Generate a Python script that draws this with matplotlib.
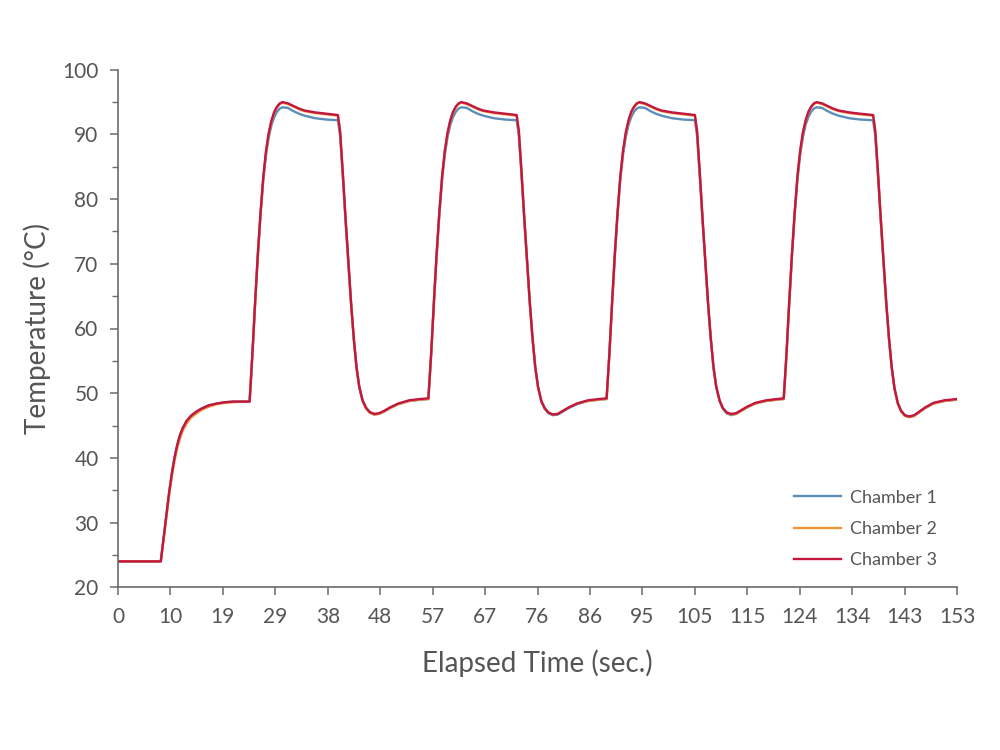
import matplotlib
matplotlib.use("Agg")
import matplotlib.pyplot as plt
import numpy as np

plt.rcParams['font.family'] = ['Lato', 'DejaVu Sans']

# time (sec.)
time = [
    0, 7.8, 8.3, 8.8, 9.3, 9.8, 10.3, 10.8, 11.3, 11.8, 12.5, 13.3, 14.2, 15.2, 16.5, 18, 19.5, 21, 22.5,
    24.0, 24.5, 25.0, 25.5, 26.0, 26.5, 27.0, 27.5, 28.0, 28.5, 29.0, 29.5, 30.0, 31.0, 32.0, 33.0, 34.0, 36.0, 38.0,
    40.1, 40.5, 41.0, 41.5, 42.0, 42.5, 43.0, 43.5, 44.0, 44.6, 45.2, 45.9, 46.7, 47.6, 48.6, 49.6, 51.1, 53.1, 55.1,
    56.6, 57.1, 57.6, 58.1, 58.6, 59.1, 59.6, 60.1, 60.6, 61.1, 61.6, 62.1, 62.6, 63.6, 64.6, 65.6, 66.6, 68.6, 70.6,
    72.7, 73.1, 73.6, 74.1, 74.6, 75.1, 75.6, 76.1, 76.6, 77.2, 77.8, 78.5, 79.3, 80.2, 81.2, 82.2, 83.7, 85.7, 87.7,
    89.1, 89.6, 90.1, 90.6, 91.1, 91.6, 92.1, 92.6, 93.1, 93.6, 94.1, 94.6, 95.1, 96.1, 97.1, 98.1, 99.1, 101.1, 103.1,
    105.2, 105.6, 106.1, 106.6, 107.1, 107.6, 108.1, 108.6, 109.1, 109.7, 110.3, 111.0, 111.8, 112.7, 113.7, 114.7, 116.2, 118.2, 120.2,
    121.4, 121.9, 122.4, 122.9, 123.4, 123.9, 124.4, 124.9, 125.4, 125.9, 126.4, 126.9, 127.4, 128.4, 129.4, 130.4, 131.4, 133.4, 135.4,
    137.7, 138.1, 138.6, 139.1, 139.6, 140.1, 140.6, 141.1, 141.6, 142.2, 142.8, 143.5, 144.3, 145.2, 146.2, 147.2, 148.7, 150.7, 153.0,
]

chamber1 = [
    24.0, 24.0, 27.5, 31.0, 34.5, 37.5, 40.0, 42.0, 43.5, 44.6, 45.7, 46.5, 47.1, 47.6, 48.1, 48.4, 48.6, 48.7, 48.7,
    48.7, 55.8, 63.8, 71.2, 77.6, 83.0, 86.9, 89.6, 91.5, 92.7, 93.5, 94.0, 94.2, 94.1, 93.6, 93.2, 92.9, 92.5, 92.3,
    92.2, 89.8, 83.5, 76.6, 70.2, 63.8, 58.3, 53.9, 50.9, 48.8, 47.7, 47.0, 46.7, 46.8, 47.2, 47.7, 48.3, 48.8, 49.0,
    49.1, 55.9, 63.8, 71.2, 77.6, 83.0, 86.9, 89.6, 91.5, 92.7, 93.5, 94.0, 94.2, 94.1, 93.6, 93.2, 92.9, 92.5, 92.3,
    92.2, 89.8, 83.5, 76.6, 70.2, 63.8, 58.3, 53.9, 50.9, 48.7, 47.6, 46.9, 46.6, 46.7, 47.2, 47.7, 48.3, 48.8, 49.0,
    49.1, 55.9, 63.8, 71.2, 77.6, 83.0, 86.9, 89.6, 91.5, 92.7, 93.5, 94.0, 94.2, 94.1, 93.6, 93.2, 92.9, 92.5, 92.3,
    92.2, 89.8, 83.5, 76.6, 70.2, 63.8, 58.3, 53.9, 50.9, 48.8, 47.6, 46.9, 46.6, 46.8, 47.3, 47.8, 48.4, 48.8, 49.0,
    49.1, 55.9, 63.8, 71.2, 77.6, 83.0, 86.9, 89.6, 91.5, 92.7, 93.5, 94.0, 94.2, 94.1, 93.6, 93.2, 92.9, 92.5, 92.3,
    92.2, 89.8, 83.5, 76.6, 70.2, 63.8, 58.3, 53.9, 50.7, 48.4, 47.2, 46.5, 46.3, 46.5, 47.1, 47.7, 48.4, 48.8, 49.0,
]

chamber2 = [
    24.0, 24.0, 27.2, 30.6, 34.0, 37.0, 39.5, 41.5, 43.0, 44.2, 45.3, 46.2, 46.8, 47.4, 47.9, 48.3, 48.5, 48.6, 48.7,
    48.7, 55.9, 63.9, 71.4, 77.9, 83.4, 87.4, 90.2, 92.1, 93.4, 94.2, 94.7, 94.9, 94.7, 94.3, 93.9, 93.6, 93.3, 93.1,
    92.9, 90.4, 83.9, 76.9, 70.4, 63.9, 58.4, 53.9, 50.9, 48.8, 47.7, 47.0, 46.7, 46.8, 47.2, 47.7, 48.3, 48.8, 49.0,
    49.1, 55.9, 63.9, 71.4, 77.9, 83.4, 87.4, 90.2, 92.1, 93.4, 94.2, 94.7, 94.9, 94.7, 94.3, 93.9, 93.6, 93.3, 93.1,
    92.9, 90.4, 83.9, 76.9, 70.4, 63.9, 58.4, 53.9, 50.9, 48.8, 47.7, 47.0, 46.7, 46.8, 47.3, 47.8, 48.4, 48.8, 49.0,
    49.1, 55.9, 63.9, 71.4, 77.9, 83.4, 87.4, 90.2, 92.1, 93.4, 94.2, 94.7, 94.9, 94.7, 94.3, 93.9, 93.6, 93.3, 93.1,
    92.9, 90.4, 83.9, 76.9, 70.4, 63.9, 58.4, 53.9, 50.9, 48.8, 47.7, 47.0, 46.7, 46.8, 47.3, 47.8, 48.4, 48.8, 49.0,
    49.1, 55.9, 63.9, 71.4, 77.9, 83.4, 87.4, 90.2, 92.1, 93.4, 94.2, 94.7, 94.9, 94.7, 94.3, 93.9, 93.6, 93.3, 93.1,
    92.9, 90.4, 83.9, 76.9, 70.4, 63.9, 58.4, 53.9, 50.7, 48.4, 47.2, 46.5, 46.3, 46.5, 47.1, 47.7, 48.4, 48.8, 49.0,
]

chamber3 = [
    24.0, 24.0, 27.5, 31.0, 34.5, 37.5, 40.0, 42.0, 43.5, 44.6, 45.7, 46.5, 47.1, 47.6, 48.1, 48.4, 48.6, 48.7, 48.7,
    48.7, 56.0, 64.0, 71.5, 78.0, 83.5, 87.5, 90.3, 92.2, 93.5, 94.3, 94.8, 95.0, 94.8, 94.4, 94.0, 93.7, 93.4, 93.2,
    93.0, 90.5, 84.0, 77.0, 70.5, 64.0, 58.5, 54.0, 51.0, 48.9, 47.8, 47.1, 46.8, 46.9, 47.3, 47.8, 48.4, 48.9, 49.1,
    49.2, 56.0, 64.0, 71.5, 78.0, 83.5, 87.5, 90.3, 92.2, 93.5, 94.3, 94.8, 95.0, 94.8, 94.4, 94.0, 93.7, 93.4, 93.2,
    93.0, 90.5, 84.0, 77.0, 70.5, 64.0, 58.5, 54.0, 51.0, 48.8, 47.7, 47.0, 46.7, 46.8, 47.3, 47.8, 48.4, 48.9, 49.1,
    49.2, 56.0, 64.0, 71.5, 78.0, 83.5, 87.5, 90.3, 92.2, 93.5, 94.3, 94.8, 95.0, 94.8, 94.4, 94.0, 93.7, 93.4, 93.2,
    93.0, 90.5, 84.0, 77.0, 70.5, 64.0, 58.5, 54.0, 51.0, 48.9, 47.7, 47.0, 46.8, 46.9, 47.4, 47.9, 48.5, 48.9, 49.1,
    49.2, 56.0, 64.0, 71.5, 78.0, 83.5, 87.5, 90.3, 92.2, 93.5, 94.3, 94.8, 95.0, 94.8, 94.4, 94.0, 93.7, 93.4, 93.2,
    93.0, 90.5, 84.0, 77.0, 70.5, 64.0, 58.5, 54.0, 50.8, 48.5, 47.3, 46.6, 46.4, 46.6, 47.2, 47.8, 48.5, 48.9, 49.1,
]

xtick_labels = ['0', '10', '19', '29', '38', '48', '57', '67', '76', '86',
                '95', '105', '115', '124', '134', '143', '153']

txt = '#555555'
axc = '#6b6b6b'

fig = plt.figure(figsize=(10, 7.5), dpi=100)
ax = fig.add_axes([0.118, 0.217, 0.839, 0.690])

ax.plot(time, chamber1, color='#5b8fb9', lw=1.7, label='Chamber 1')
ax.plot(time, chamber2, color='#f0963a', lw=1.7, label='Chamber 2')
ax.plot(time, chamber3, color='#c2173f', lw=1.7, label='Chamber 3')

ax.set_xlim(0, 153)
ax.set_ylim(20, 100)
ax.set_xticks(np.linspace(0, 153, len(xtick_labels)))
ax.set_xticklabels(xtick_labels)
ax.set_yticks(range(20, 101, 10))
ax.set_yticks(range(25, 100, 10), minor=True)

for s in ['top', 'right']:
    ax.spines[s].set_visible(False)
for s in ['left', 'bottom']:
    ax.spines[s].set_color(axc)
    ax.spines[s].set_linewidth(1.2)

ax.tick_params(axis='both', which='major', colors=axc, labelcolor=txt,
               labelsize=15, length=6, width=1.1, pad=8)
ax.tick_params(axis='y', which='minor', colors=axc, length=4, width=1.0)

ax.set_xlabel('Elapsed Time (sec.)', fontsize=20, color=txt, labelpad=16)
ax.set_ylabel('Temperature (°C)', fontsize=20, color=txt, labelpad=8)

leg = ax.legend(loc='lower right', bbox_to_anchor=(0.995, 0.005), frameon=False,
                fontsize=13, handlelength=2.6, labelspacing=0.85, handletextpad=0.5)
for t in leg.get_texts():
    t.set_color(txt)

fig.savefig('out.png', dpi=100)
